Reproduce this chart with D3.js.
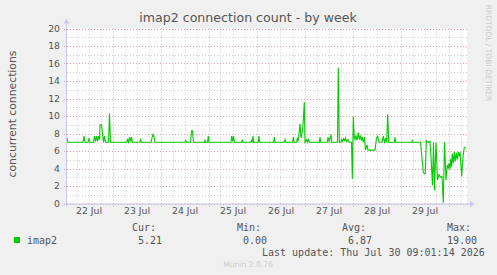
<!DOCTYPE html>
<html>
<head>
<meta charset="utf-8">
<script src="https://cdn.jsdelivr.net/npm/d3@7"></script>
<style>
  body { margin: 0; background: #f0f0f0; }
  svg text { font-family: "DejaVu Sans", sans-serif; }
  .mono { font-family: "DejaVu Sans Mono", monospace !important; }
</style>
</head>
<body>
<div id="chart"></div>
<script>
// hours since 22 Jul 01:15 and connection counts
const hoursFromStart = [
  0, 0.5, 8, 8.5, 9, 10.5, 11, 11.5, 13.25, 13.75, 14.25, 14.75, 15.25, 15.75, 16.25, 16.5, 17.25, 17.75, 18.25, 18.75, 19.25,
  20.75, 21.25, 21.75, 29.75, 30.25, 30.75, 31.25, 31.75, 32.25, 32.75, 36.5, 36.85, 37.25, 42, 42.5, 43, 43.5, 44,
  59, 59.35, 59.75, 61.75, 62.25, 62.75, 63.25, 68.75, 69, 69.25, 70.25, 70.65, 71,
  82, 82.35, 82.85, 83.25, 83.75, 87.35, 87.65, 88, 92, 92.35, 92.65, 93, 93.35, 95.65, 96, 96.35,
  103.35, 103.65, 104, 108.65, 109, 109.35, 112.85, 113.15, 113.5, 114.85, 115.15, 115.5, 116, 116.5, 117, 117.5, 118, 118.65, 119,
  119.85, 120.25, 120.75, 121.25, 126.15, 126.5, 126.85, 130.15, 130.5, 131, 131.5, 132, 132.35,
  135.25, 135.65, 136.15, 137, 137.35, 137.75, 138.25, 138.75, 139.25, 139.75, 140.5, 141,
  142.25, 142.65, 143.15, 143.65, 144, 144.5, 145, 145.65, 146.15, 146.65, 147.15, 147.65, 148.15, 148.65,
  149.25, 150, 150.5, 154, 154.75, 155.35, 156, 157.5, 158.15, 158.75, 159.35, 159.85, 160.35, 160.85,
  163.65, 164, 164.35, 172.35, 172.65, 173, 176.75, 178.15, 178.65, 179.15, 179.65, 180.5, 181.5, 182, 182.75,
  183.25, 183.75, 184.5, 185.25, 186, 186.75, 187.5, 188.15, 188.75, 189.5, 190.15, 190.65, 191, 191.5, 191.75,
  192.25, 192.65, 193.15, 193.65, 194.15, 194.65, 195.15, 195.65, 196.15, 196.5, 197.35, 198, 198.65, 199.35
];
const imap2 = [
  7.5, 7, 7, 7.7, 7, 7, 7.4, 7, 7, 7.7, 7.1, 7.7, 7.1, 7.7, 7.3, 9.0, 9.0, 8.0, 7.0, 7.7, 7,
  7, 10.3, 7, 7, 7.3, 7, 7.6, 7.1, 7.6, 7, 7, 7.3, 7, 7, 7.5, 7.9, 7.6, 7,
  7, 7.2, 7, 7, 8.3, 8.3, 7, 7, 7.3, 7, 7, 7.7, 7,
  7, 7.7, 7.1, 7.7, 7, 7, 7.3, 7, 7, 7.3, 7, 7.7, 7, 7, 7.7, 7,
  7, 7.6, 7, 7, 7.3, 7, 7, 7.6, 7, 7, 7.5, 7.1, 8, 9.1, 7.5, 8, 9, 11.6, 7,
  7.3, 7, 7.3, 7, 7, 7.6, 7, 7, 7.6, 7.1, 7.4, 7.9, 7,
  7, 15.5, 7, 7, 7.3, 7.1, 7.4, 7.2, 7.5, 7.1, 7.3, 7,
  7, 2.8, 9.9, 7.5, 7.3, 7.8, 7.2, 8.1, 7.3, 7.8, 7.2, 7.6, 7.0, 7.6,
  6.1, 6.7, 6.1, 6.1, 7.5, 7.7, 7, 7, 7.7, 7, 7.4, 7.0, 10.2, 7,
  7, 7.6, 7, 7, 7.2, 7, 7, 3.6, 3.4, 3.4, 7.2, 7.0, 7.1, 5.3, 2.1,
  7.0, 1.5, 7.0, 2.7, 3.3, 3.0, 3.1, 0.1, 7.0, 2.7, 4.4, 4.0, 4.6, 3.9, 5.1,
  4.2, 5.7, 4.6, 5.9, 4.8, 5.8, 5.0, 5.9, 5.4, 5.9, 3.1, 5.3, 6.4, 6.4
];
const dayLabels = ["22 Jul", "23 Jul", "24 Jul", "25 Jul", "26 Jul", "27 Jul", "28 Jul", "29 Jul"];
const yTicks = [0, 2, 4, 6, 8, 10, 12, 14, 16, 18, 20];
const legendHeads = ["Cur:", "Min:", "Avg:", "Max:"];
const legendValues = ["5.21", "0.00", "6.87", "19.00"];

const width = 497, height = 275;
const plotLeft = 67, plotRight = 467, plotTop = 28.5, plotBottom = 203.5;
const hour = 3600e3;
const start = Date.UTC(2026, 6, 22, 1, 15);
const end = start + 200 * hour;

const svg = d3.select('#chart').append('svg')
  .attr('width', width)
  .attr('height', height);

svg.append('rect').attr('width', width).attr('height', height).attr('fill', '#f0f0f0');

const x = d3.scaleUtc().domain([start, end]).range([plotLeft, plotRight]);
const y = d3.scaleLinear().domain([0, 20]).range([plotBottom, plotTop]);

svg.append('rect')
  .attr('x', plotLeft).attr('y', plotTop)
  .attr('width', plotRight - plotLeft).attr('height', plotBottom - plotTop)
  .attr('fill', '#fff');

// minor grid
const g = svg.append('g');
const sixHours = d3.utcHour.every(6).range(new Date(start), new Date(end));
g.selectAll('.vmin').data(sixHours.filter(d => d.getUTCHours() !== 0)).join('line')
  .attr('x1', d => Math.round(x(d)) + 0.5).attr('x2', d => Math.round(x(d)) + 0.5)
  .attr('y1', plotTop).attr('y2', plotBottom)
  .attr('stroke', '#cfcfcf').attr('stroke-dasharray', '1,2');
g.selectAll('.hmin').data(d3.range(1, 20, 2)).join('line')
  .attr('x1', plotLeft).attr('x2', plotRight)
  .attr('y1', d => Math.round(y(d)) + 0.5).attr('y2', d => Math.round(y(d)) + 0.5)
  .attr('stroke', '#cfcfcf').attr('stroke-dasharray', '1,2');

// major grid
const midnights = d3.utcDay.range(new Date(start), new Date(end));
g.selectAll('.vmaj').data(midnights).join('line')
  .attr('x1', d => Math.round(x(d)) + 0.5).attr('x2', d => Math.round(x(d)) + 0.5)
  .attr('y1', plotTop).attr('y2', plotBottom + 3)
  .attr('stroke', '#eaa0a0').attr('stroke-dasharray', '1,2');
g.selectAll('.hmaj').data(yTicks).join('line')
  .attr('x1', plotLeft - 3).attr('x2', plotRight)
  .attr('y1', d => Math.round(y(d)) + 0.5).attr('y2', d => Math.round(y(d)) + 0.5)
  .attr('stroke', '#eaa0a0').attr('stroke-dasharray', '1,2');

// series
const points = hoursFromStart.map((h, i) => [start + h * hour, imap2[i]]);
svg.append('path')
  .datum(points)
  .attr('fill', 'none')
  .attr('stroke', '#00cc00')
  .attr('stroke-width', 1.1)
  .attr('d', d3.line().x(d => x(d[0])).y(d => y(d[1])));

// axes lines with arrows
const axisColor = '#c8c8f0';
svg.append('line').attr('x1', plotLeft - 0.5).attr('x2', plotLeft - 0.5).attr('y1', plotBottom + 3).attr('y2', plotTop - 6)
  .attr('stroke', axisColor);
svg.append('path').attr('d', `M${plotLeft - 3.5},${plotTop - 5} L${plotLeft - 0.5},${plotTop - 10} L${plotLeft + 2.5},${plotTop - 5} Z`).attr('fill', axisColor);
svg.append('line').attr('x1', plotLeft - 3).attr('x2', plotRight + 4).attr('y1', plotBottom + 0.5).attr('y2', plotBottom + 0.5)
  .attr('stroke', axisColor);
svg.append('path').attr('d', `M${plotRight + 3},${plotBottom - 2.5} L${plotRight + 8},${plotBottom + 0.5} L${plotRight + 3},${plotBottom + 3.5} Z`).attr('fill', axisColor);

// tick labels
const yAxis = svg.append('g')
  .attr('transform', `translate(${plotLeft - 7},0)`)
  .call(d3.axisLeft(y).tickValues(yTicks).tickSize(0).tickPadding(0));
yAxis.select('.domain').remove();
yAxis.selectAll('text').attr('font-size', 9.3).attr('fill', '#555').attr('font-family', 'DejaVu Sans');

const noons = midnights.map(d => new Date(+d - 12 * hour));
const xAxis = svg.append('g')
  .attr('transform', `translate(0,${plotBottom + 4})`)
  .call(d3.axisBottom(x).tickValues(noons.slice(0, dayLabels.length)).tickSize(0).tickPadding(0)
    .tickFormat((d, i) => dayLabels[i]));
xAxis.select('.domain').remove();
xAxis.selectAll('text').attr('font-size', 9.3).attr('fill', '#555').attr('font-family', 'DejaVu Sans');

// titles
svg.append('text').attr('x', 248).attr('y', 22).attr('text-anchor', 'middle')
  .attr('font-size', 12.6).attr('fill', '#555').text('imap2 connection count - by week');
svg.append('text').attr('transform', 'translate(16,114) rotate(-90)').attr('text-anchor', 'middle')
  .attr('font-size', 10.8).attr('fill', '#555').text('concurrent connections');
svg.append('text').attr('transform', 'translate(485.5,53) rotate(90)').attr('text-anchor', 'middle')
  .attr('font-size', 7.5).attr('fill', '#ccc').text('RRDTOOL / TOBI OETIKER');

// legend
svg.append('rect').attr('x', 14).attr('y', 237).attr('width', 6).attr('height', 6).attr('fill', '#00cc00');
svg.append('text').attr('class', 'mono').attr('x', 27).attr('y', 243.5).attr('font-size', 10).attr('fill', '#555').text('imap2');
const headX = [132, 237, 342, 447];
const valX = [138, 243, 348, 447];
svg.selectAll('.lh').data(legendHeads).join('text').attr('class', 'mono')
  .attr('x', (d, i) => headX[i]).attr('y', 231).attr('font-size', 10).attr('fill', '#555').text(d => d);
svg.selectAll('.lv').data(legendValues).join('text').attr('class', 'mono')
  .attr('x', (d, i) => valX[i]).attr('y', 243.5).attr('font-size', 10).attr('fill', '#555').text(d => d);
svg.append('text').attr('class', 'mono').attr('x', 262).attr('y', 255.5).attr('font-size', 10).attr('fill', '#555')
  .text('Last update: Thu Jul 30 09:01:14 2026');
svg.append('text').attr('x', 248).attr('y', 267).attr('text-anchor', 'middle').attr('font-size', 7.6).attr('fill', '#ccc')
  .text('Munin 2.0.76');
</script>
</body>
</html>
